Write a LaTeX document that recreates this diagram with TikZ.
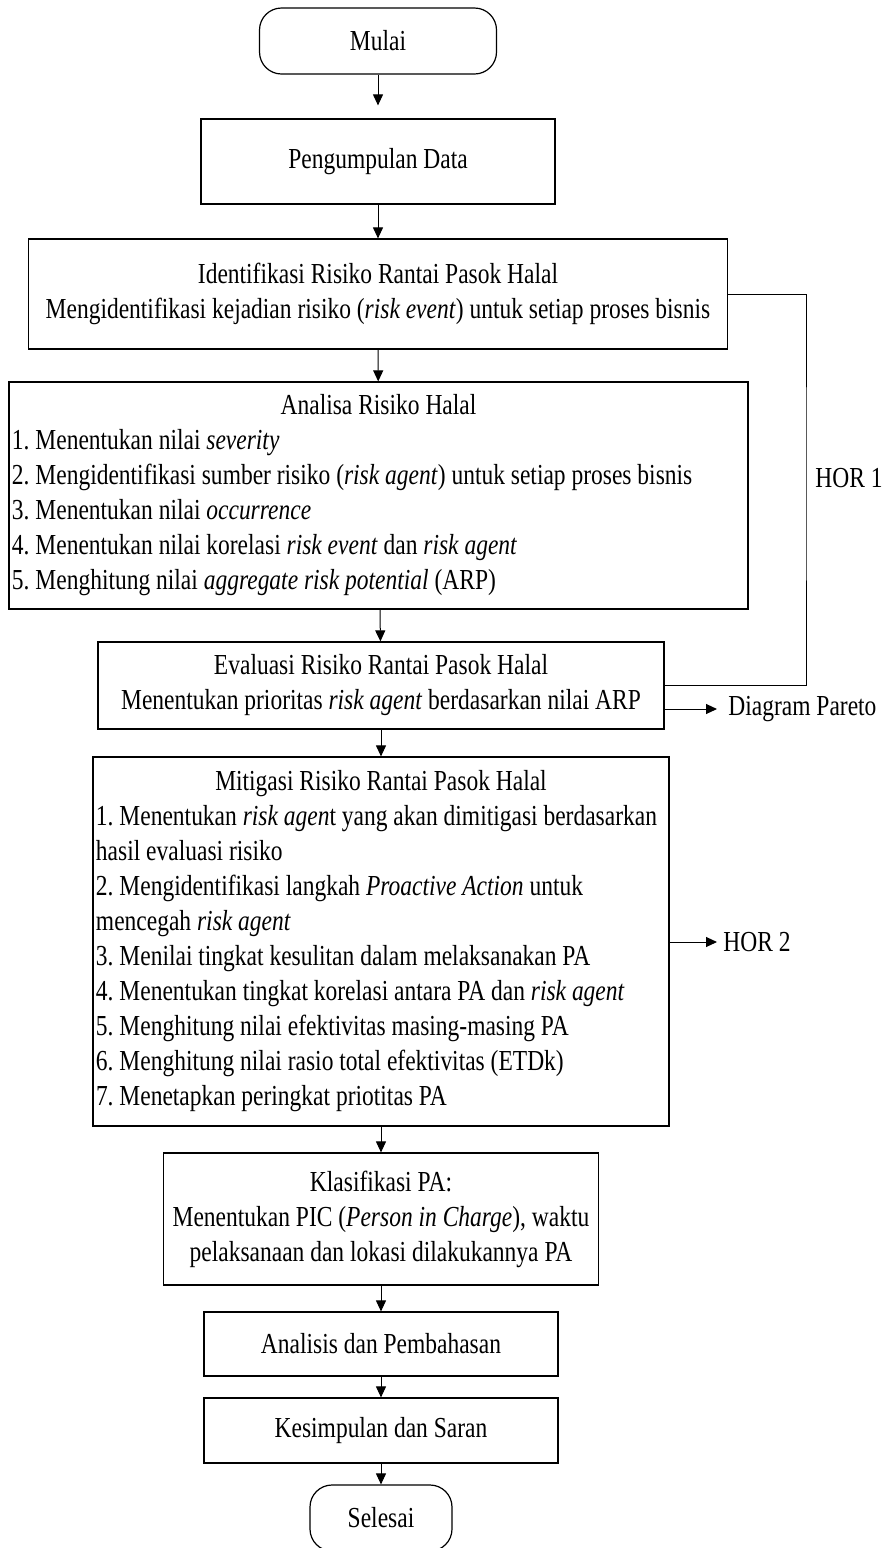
\documentclass[tikz,border=0pt]{standalone}
\usepackage{fontspec}
\setmainfont{Liberation Serif}[FakeStretch=0.81]
\usetikzlibrary{arrows.meta}

\begin{document}
\begin{tikzpicture}[x=0.5pt,y=-0.5pt,
  every node/.style={font=\fontsize{14.5pt}{17.5pt}\selectfont\frenchspacing},
  box/.style={draw, line width=0.6pt, inner xsep=2pt, inner ysep=2pt},
  term/.style={box, rounded corners=11pt},
  listbox/.style={box, inner xsep=1.5pt, align=flush left},
  side/.style={anchor=west, inner ysep=0pt},
  arr/.style={-{Triangle[length=5.5pt,width=5pt]}, line width=0.5pt}]
  \useasboundingbox (0,0) rectangle (883,1548);
  \clip (0,0) rectangle (883,1548);

  % Start and data collection
  \node[term, minimum width=118.5pt, minimum height=33pt] (mulai) at (378,41) {Mulai};
  \node[box, minimum width=177pt, minimum height=42.5pt] (data) at (378,161.5) {Pengumpulan Data};

  % Risk identification (HOR 1)
  \node[box, minimum width=349.5pt, minimum height=55pt, align=center] (ident) at (378,294)
    {Identifikasi Risiko Rantai Pasok Halal\\
     Mengidentifikasi kejadian risiko (\textit{risk event}) untuk setiap proses bisnis};
  \node[listbox, text width=366.5pt, minimum height=113.5pt] (analisa) at (378.5,495.5)
    {\makebox[\linewidth]{Analisa Risiko Halal}\\
     1. Menentukan nilai \textit{severity}\\
     2. Mengidentifikasi sumber risiko (\textit{risk agent}) untuk setiap proses bisnis\\
     3. Menentukan nilai \textit{occurrence}\\
     4. Menentukan nilai korelasi \textit{risk event} dan \textit{risk agent}\\
     5. Menghitung nilai \textit{aggregate risk potential} (ARP)};
  \node[box, minimum width=283pt, minimum height=43.5pt, align=center] (evaluasi) at (381,685.5)
    {Evaluasi Risiko Rantai Pasok Halal\\
     Menentukan prioritas \textit{risk agent} berdasarkan nilai ARP};

  % Risk mitigation (HOR 2)
  \node[listbox, text width=285pt, minimum height=184.5pt] (mitigasi) at (381,941.5)
    {\makebox[\linewidth]{Mitigasi Risiko Rantai Pasok Halal}\\
     1. Menentukan \textit{risk agen}t yang akan dimitigasi berdasarkan\\
     hasil evaluasi risiko\\
     2. Mengidentifikasi langkah \textit{Proactive Action} untuk\\
     mencegah \textit{risk agent}\\
     3. Menilai tingkat kesulitan dalam melaksanakan PA\\
     4. Menentukan tingkat korelasi antara PA dan \textit{risk agent}\\
     5. Menghitung nilai efektivitas masing-masing PA\\
     6. Menghitung nilai rasio total efektivitas (ETDk)\\
     7. Menetapkan peringkat priotitas PA};
  \node[box, minimum width=217.5pt, minimum height=66pt, align=center] (klasifikasi) at (381,1219)
    {Klasifikasi PA:\\
     Menentukan PIC (\textit{Person in Charge}), waktu\\
     pelaksanaan dan lokasi dilakukannya PA};

  % Closing steps
  \node[box, minimum width=177pt, minimum height=32pt] (analisis) at (381,1344) {Analisis dan Pembahasan};
  \node[box, minimum width=177pt, minimum height=32.5pt] (kesimpulan) at (381,1430.5) {Kesimpulan dan Saran};
  \node[term, minimum width=71pt, minimum height=33pt] (selesai) at (381,1518) {Selesai};

  % Side outputs
  \node[inner sep=0pt] (hor1) at (849,478) {HOR 1};
  \coordinate (hor1line) at (806,478);
  \node[side, inner xsep=5.5pt] (pareto) at (717,709) {Diagram Pareto};
  \node[side, inner xsep=3pt] (hor2) at (717,942) {HOR 2};

  % Main flow
  \draw[arr, shorten >=6.5pt] (mulai) -- (data);
  \draw[arr] (data) -- (ident);
  \draw[arr] (ident) -- (analisa);
  \draw[arr] (analisa) -- (evaluasi);
  \draw[arr] (evaluasi) -- (mitigasi);
  \draw[arr] (mitigasi) -- (klasifikasi);
  \draw[arr] (klasifikasi) -- (analisis);
  \draw[arr] (analisis) -- (kesimpulan);
  \draw[arr] (kesimpulan) -- (selesai);

  % HOR connectors
  \draw[line width=0.5pt] (ident.east) -| (hor1line) |- (evaluasi.east);
  \draw[arr] (evaluasi.east |- pareto.west) -- (pareto.west);
  \draw[arr] (mitigasi.east |- hor2.west) -- (hor2.west);

\end{tikzpicture}
\end{document}
